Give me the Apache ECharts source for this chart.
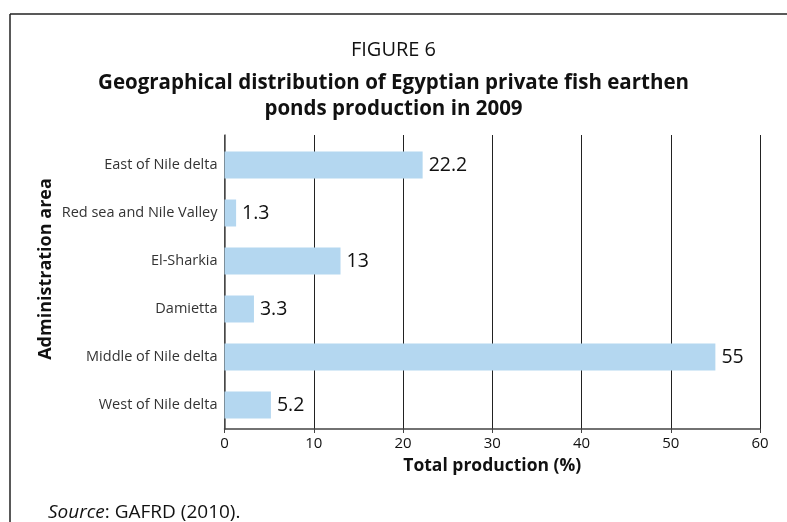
<!DOCTYPE html>
<html>
<head>
<meta charset="utf-8">
<script src="https://cdn.jsdelivr.net/npm/echarts@6/dist/echarts.min.js"></script>
<style>html,body{margin:0;padding:0;background:#fff}#c{width:787px;height:522px}</style>
</head>
<body>
<div id="c"></div>
<script>
var categories = ["East of Nile delta", "Red sea and Nile Valley", "El-Sharkia", "Damietta", "Middle of Nile delta", "West of Nile delta"];
var values = [22.2, 1.3, 13, 3.3, 55, 5.2];
var xTicks = [0, 10, 20, 30, 40, 50, 60];

var FONT = '"Open Sans", "Noto Sans", sans-serif';
var chart = echarts.init(document.getElementById('c'), null, {renderer: 'canvas'});
chart.setOption({
  animation: false,
  backgroundColor: '#fff',
  textStyle: {fontFamily: FONT},
  title: [
    {text: 'FIGURE 6', left: 'center', top: 35, textStyle: {fontFamily: FONT, fontSize: 20, fontWeight: 'normal', color: '#111'}},
    {text: 'Geographical distribution of Egyptian private fish earthen\nponds production in 2009', left: 'center', top: 65,
     textStyle: {fontFamily: FONT, fontSize: 20.5, fontWeight: 'bold', color: '#111', lineHeight: 26}},
    {text: '{i|Source}: GAFRD (2010).', left: 43, top: 498,
     textStyle: {fontFamily: FONT, fontSize: 19, fontWeight: 'normal', color: '#111',
       rich: {i: {fontFamily: FONT, fontSize: 19, fontStyle: 'italic', color: '#111'}}}}
  ],
  graphic: [
    {type: 'line', shape: {x1: 10, y1: 14, x2: 787, y2: 14}, style: {stroke: '#222', lineWidth: 1.5}},
    {type: 'line', shape: {x1: 10, y1: 14, x2: 10, y2: 522}, style: {stroke: '#222', lineWidth: 1.5}},
    {type: 'text', x: 46, y: 269, rotation: Math.PI / 2, style: {text: 'Administration area', fontFamily: FONT, fontSize: 18, fontWeight: 'bold', fill: '#111', align: 'center', verticalAlign: 'middle'}}
  ],
  grid: [
    {left: 224.5, right: 27, top: 141, bottom: 93, containLabel: false},
    {left: 224.5, right: 27, top: 135, bottom: 93, containLabel: false}
  ],
  xAxis: [
    {type: 'value', gridIndex: 0, min: xTicks[0], max: xTicks[xTicks.length - 1], interval: 10,
     name: 'Total production (%)', nameLocation: 'middle', nameGap: 28,
     nameTextStyle: {fontFamily: FONT, fontSize: 17.5, fontWeight: 'bold', color: '#111'},
     axisLine: {show: true, lineStyle: {color: '#444', width: 1.5}},
     axisTick: {show: true, length: 4, lineStyle: {color: '#444', width: 1}},
     axisLabel: {fontFamily: FONT, fontSize: 15, color: '#111', margin: 7},
     splitLine: {show: false}},
    {type: 'value', gridIndex: 1, min: xTicks[0], max: xTicks[xTicks.length - 1], interval: 10,
     axisLine: {show: false}, axisTick: {show: false}, axisLabel: {show: false},
     splitLine: {show: true, lineStyle: {color: '#222', width: 1}}}
  ],
  yAxis: [
    {type: 'category', gridIndex: 0, data: categories, inverse: true,
     axisLine: {show: false}, axisTick: {show: false},
     axisLabel: {fontFamily: FONT, fontSize: 14.5, color: '#333', margin: 7}},
    {type: 'value', gridIndex: 1, min: 0, max: 1,
     axisLine: {show: true, lineStyle: {color: '#555', width: 1.5}},
     axisTick: {show: false}, axisLabel: {show: false}, splitLine: {show: false}}
  ],
  series: [{
    type: 'bar', xAxisIndex: 0, yAxisIndex: 0, data: values, barWidth: 27,
    itemStyle: {color: '#B4D7F0'},
    label: {show: true, position: 'right', distance: 6, fontFamily: FONT, fontSize: 19.5, color: '#111'}
  }]
});
</script>
</body>
</html>
